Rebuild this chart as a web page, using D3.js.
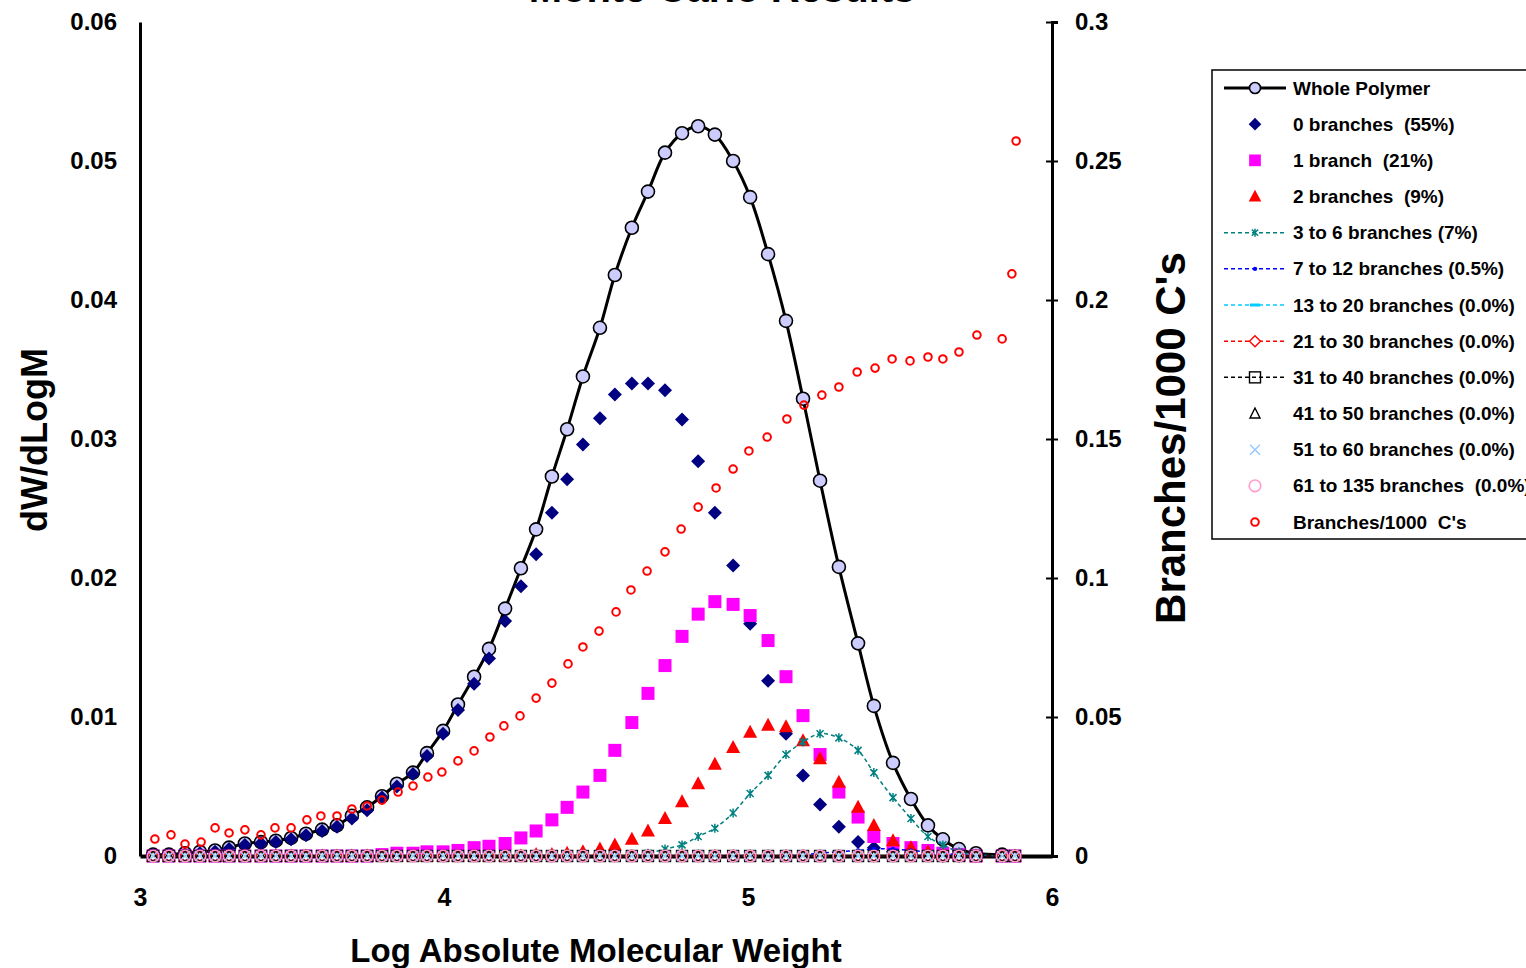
<!DOCTYPE html>
<html>
<head>
<meta charset="utf-8">
<script src="https://cdn.jsdelivr.net/npm/d3@7"></script>
<style>
  body { margin: 0; background: #fff; }
  svg { display: block; font-family: "Liberation Sans", Arial, sans-serif; font-weight: bold; }
</style>
</head>
<body>
<svg id="chart" width="1526" height="968"></svg>
<script>
// log molecular weight slices (shared by the dW/dLogM series)
const logM = [3.043, 3.095, 3.148, 3.197, 3.247, 3.293, 3.345, 3.398, 3.447, 3.497,
  3.546, 3.599, 3.648, 3.697, 3.747, 3.796, 3.845, 3.898, 3.944, 3.997,
  4.046, 4.099, 4.148, 4.201, 4.253, 4.303, 4.355, 4.405, 4.457, 4.513,
  4.562, 4.618, 4.671, 4.727, 4.783, 4.836, 4.891, 4.951, 5.007, 5.066,
  5.125, 5.181, 5.237, 5.299, 5.362, 5.414, 5.477, 5.536, 5.592, 5.641,
  5.694, 5.750, 5.836, 5.878];

const wholePolymer = [0.0001, 0.0001, 0.0002, 0.0003, 0.0004, 0.0006, 0.0009, 0.0010, 0.0011, 0.0013,
  0.0016, 0.0019, 0.0022, 0.0029, 0.0035, 0.0043, 0.0052, 0.0060, 0.0074, 0.0090,
  0.0109, 0.0129, 0.0149, 0.0178, 0.0207, 0.0235, 0.0273, 0.0307, 0.0345, 0.0380,
  0.0418, 0.0452, 0.0478, 0.0506, 0.0520, 0.0525, 0.0519, 0.0500, 0.0474, 0.0433,
  0.0385, 0.0329, 0.0270, 0.0208, 0.0153, 0.0108, 0.0067, 0.0041, 0.0022, 0.0012,
  0.0005, 0.0002, 0.0001, null];

const branches0 = [0.0001, 0.0001, 0.0001, 0.0002, 0.0003, 0.0005, 0.0008, 0.0009, 0.0010, 0.0012,
  0.0015, 0.0018, 0.0021, 0.0027, 0.0033, 0.0042, 0.0050, 0.0059, 0.0072, 0.0088,
  0.0105, 0.0124, 0.0142, 0.0169, 0.0194, 0.0217, 0.0247, 0.0271, 0.0296, 0.0315,
  0.0332, 0.0340, 0.0340, 0.0335, 0.0314, 0.0284, 0.0247, 0.0209, 0.0167, 0.0126,
  0.0088, 0.0058, 0.0037, 0.0021, 0.0010, 0.0006, 0.0003, 0.0001, 0.0001, 0,
  0, 0, 0, 0];

const branches1 = [0, 0, 0, 0, 0, 0, 0, 0, 0, 0,
  0, 0, 0, 0, 0, 0.0001, 0.0002, 0.0002, 0.0003, 0.0003,
  0.0004, 0.0006, 0.0007, 0.0009, 0.0013, 0.0018, 0.0026, 0.0035, 0.0046, 0.0058,
  0.0076, 0.0096, 0.0117, 0.0137, 0.0158, 0.0174, 0.0183, 0.0181, 0.0173, 0.0155,
  0.0129, 0.0101, 0.0073, 0.0046, 0.0028, 0.0014, 0.0009, 0.0006, 0.0004, 0.0002,
  0.0001, 0, 0, 0];

const branches2 = [0, 0, 0, 0, 0, 0, 0, 0, 0, 0,
  0, 0, 0, 0, 0, 0, 0, 0, 0, 0,
  0, 0, 0, 0, 0, 0.0001, 0.0001, 0.0002, 0.0003, 0.0005,
  0.0008, 0.0012, 0.0018, 0.0027, 0.0039, 0.0052, 0.0066, 0.0078, 0.0089, 0.0094,
  0.0093, 0.0083, 0.0070, 0.0053, 0.0035, 0.0022, 0.0011, 0.0006, 0.0003, 0.0001,
  0, 0, 0, 0];

const branches3to6 = [0, 0, 0, 0, 0, 0, 0, 0, 0, 0,
  0, 0, 0, 0, 0, 0, 0, 0, 0, 0,
  0, 0, 0, 0, 0, 0, 0, 0, 0, 0,
  0, 0, 0.0002, 0.0005, 0.0008, 0.0014, 0.0020, 0.0031, 0.0045, 0.0058,
  0.0073, 0.0082, 0.0088, 0.0085, 0.0076, 0.0060, 0.0042, 0.0027, 0.0014, 0.0008,
  0.0003, 0.0001, 0, 0];

const branches7to12 = [0, 0, 0, 0, 0, 0, 0, 0, 0, 0,
  0, 0, 0, 0, 0, 0, 0, 0, 0, 0,
  0, 0, 0, 0, 0, 0, 0, 0, 0, 0,
  0, 0, 0, 0, 0, 0, 0, 0, 0, 0,
  0, 0.0001, 0.0002, 0.0003, 0.0004, 0.0005, 0.0005, 0.0004, 0.0003, 0.0002,
  0.0001, 0, 0, 0];

// the higher branch classes are empty (0.0%) everywhere
const emptyClass = [0, 0, 0, 0, 0, 0, 0, 0, 0, 0,
  0, 0, 0, 0, 0, 0, 0, 0, 0, 0,
  0, 0, 0, 0, 0, 0, 0, 0, 0, 0,
  0, 0, 0, 0, 0, 0, 0, 0, 0, 0,
  0, 0, 0, 0, 0, 0, 0, 0, 0, 0,
  0, 0, 0, 0];

// branches per 1000 C's (right axis), own slices
const branchLogM = [3.049, 3.102, 3.148, 3.201, 3.247, 3.293, 3.345, 3.398, 3.444, 3.497,
  3.549, 3.595, 3.648, 3.697, 3.747, 3.796, 3.849, 3.898, 3.947, 3.993,
  4.046, 4.099, 4.151, 4.197, 4.250, 4.303, 4.355, 4.408, 4.457, 4.510,
  4.566, 4.615, 4.668, 4.727, 4.780, 4.836, 4.895, 4.951, 5.003, 5.063,
  5.128, 5.184, 5.243, 5.299, 5.359, 5.418, 5.474, 5.533, 5.592, 5.641,
  5.694, 5.753, 5.836, 5.868, 5.882];

const branchesPer1000C = [0.0061, 0.0076, 0.0043, 0.0050, 0.0101, 0.0083, 0.0094, 0.0076, 0.0101, 0.0101,
  0.0130, 0.0144, 0.0144, 0.0169, 0.0180, 0.0201, 0.0230, 0.0252, 0.0284, 0.0302,
  0.0342, 0.0378, 0.0428, 0.0468, 0.0504, 0.0568, 0.0622, 0.0691, 0.0752, 0.0809,
  0.0878, 0.0957, 0.1025, 0.1094, 0.1176, 0.1255, 0.1324, 0.1392, 0.1457, 0.1507,
  0.1572, 0.1622, 0.1658, 0.1687, 0.1741, 0.1755, 0.1788, 0.1781, 0.1795, 0.1788,
  0.1813, 0.1874, 0.1860, 0.2094, 0.2572];

const xTicks = [3, 4, 5, 6];
const leftTicks = [0, 0.01, 0.02, 0.03, 0.04, 0.05, 0.06];
const rightTicks = [0, 0.05, 0.1, 0.15, 0.2, 0.25, 0.3];

const series = [
  { name: 'Whole Polymer', xs: logM, ys: wholePolymer, axis: 'L', line: { color: '#000', width: 3 }, marker: 'whole' },
  { name: '0 branches  (55%)', xs: logM, ys: branches0, axis: 'L', marker: 'diamond' },
  { name: '1 branch  (21%)', xs: logM, ys: branches1, axis: 'L', marker: 'square' },
  { name: '2 branches  (9%)', xs: logM, ys: branches2, axis: 'L', marker: 'triangle' },
  { name: '3 to 6 branches (7%)', xs: logM, ys: branches3to6, axis: 'L', line: { color: '#008080', width: 1.5, dash: '4,3' }, marker: 'star' },
  { name: '7 to 12 branches (0.5%)', xs: logM, ys: branches7to12, axis: 'L', line: { color: '#0000FF', width: 1.5, dash: '4,3' }, marker: 'dot' },
  { name: '13 to 20 branches (0.0%)', xs: logM, ys: emptyClass, axis: 'L', line: { color: '#00CCFF', width: 1.5, dash: '4,3' }, marker: 'dash' },
  { name: '21 to 30 branches (0.0%)', xs: logM, ys: emptyClass, axis: 'L', line: { color: '#FF0000', width: 1.5, dash: '4,3' }, marker: 'diamondOpen' },
  { name: '31 to 40 branches (0.0%)', xs: logM, ys: emptyClass, axis: 'L', line: { color: '#000', width: 1.5, dash: '4,3' }, marker: 'squareOpen' },
  { name: '41 to 50 branches (0.0%)', xs: logM, ys: emptyClass, axis: 'L', marker: 'triangleOpen' },
  { name: '51 to 60 branches (0.0%)', xs: logM, ys: emptyClass, axis: 'L', marker: 'cross' },
  { name: '61 to 135 branches  (0.0%)', xs: logM, ys: emptyClass, axis: 'L', marker: 'circlePink' },
  { name: "Branches/1000  C's", xs: branchLogM, ys: branchesPer1000C, axis: 'R', marker: 'circleRed' }
];

const svg = d3.select('#chart');
const x = d3.scaleLinear().domain([3, 6]).range([140, 1052]);
const yL = d3.scaleLinear().domain([0, 0.06]).range([856, 22]);
const yR = d3.scaleLinear().domain([0, 0.3]).range([856, 22]);

// draws one marker of the given kind at (0,0) inside g
function drawMarker(g, kind, scale = 1) {
  const s = scale;
  switch (kind) {
    case 'whole':
      g.append('circle').attr('r', 6.5 * s).attr('fill', '#CCCCFF').attr('stroke', '#000').attr('stroke-width', 1.6);
      break;
    case 'diamond':
      g.append('path').attr('d', `M0,${-7 * s}L${7 * s},0L0,${7 * s}L${-7 * s},0Z`).attr('fill', '#000080');
      break;
    case 'square':
      g.append('rect').attr('x', -6.5 * s).attr('y', -6.5 * s).attr('width', 13 * s).attr('height', 13 * s).attr('fill', '#FF00FF');
      break;
    case 'triangle':
      g.append('path').attr('d', `M0,${-7.5 * s}L${7 * s},${5.5 * s}L${-7 * s},${5.5 * s}Z`).attr('fill', '#FF0000');
      break;
    case 'star':
      g.append('path').attr('d', `M${-3.5 * s},${-3.5 * s}L${3.5 * s},${3.5 * s}M${-3.5 * s},${3.5 * s}L${3.5 * s},${-3.5 * s}M0,${-4.5 * s}V${4.5 * s}`)
        .attr('stroke', '#008080').attr('stroke-width', 1.5).attr('fill', 'none');
      break;
    case 'dot':
      g.append('circle').attr('r', 2.2).attr('fill', '#0000FF');
      break;
    case 'dash':
      g.append('rect').attr('x', -5).attr('y', -1.5).attr('width', 10).attr('height', 3).attr('fill', '#00CCFF');
      break;
    case 'diamondOpen':
      g.append('path').attr('d', 'M0,-5.5L5.5,0L0,5.5L-5.5,0Z').attr('fill', '#fff').attr('stroke', '#FF0000').attr('stroke-width', 1.4);
      break;
    case 'squareOpen':
      g.append('rect').attr('x', -5.5).attr('y', -5.5).attr('width', 11).attr('height', 11).attr('fill', 'none').attr('stroke', '#000').attr('stroke-width', 1.4);
      break;
    case 'triangleOpen':
      g.append('path').attr('d', 'M0,-5.5L5,4.5L-5,4.5Z').attr('fill', 'none').attr('stroke', '#000').attr('stroke-width', 1.4);
      break;
    case 'cross':
      g.append('path').attr('d', 'M-5,-5L5,5M-5,5L5,-5').attr('stroke', '#99CCFF').attr('stroke-width', 1.6);
      break;
    case 'circlePink':
      g.append('circle').attr('r', 5.8).attr('fill', 'none').attr('stroke', '#FF99CC').attr('stroke-width', 1.6);
      break;
    case 'circleRed':
      g.append('circle').attr('r', 3.8).attr('fill', 'none').attr('stroke', '#FF0000').attr('stroke-width', 2);
      break;
  }
}

// title (mostly above the visible area)
svg.append('text')
  .attr('x', 722).attr('y', 1.5)
  .attr('text-anchor', 'middle')
  .attr('font-size', 40)
  .text('Monte Carlo Results');

// axes
const axisFont = g => g.selectAll('text').attr('font-family', '"Liberation Sans", Arial, sans-serif').attr('font-weight', 'bold').attr('fill', '#000');

svg.append('g')
  .attr('transform', 'translate(140,0)')
  .call(d3.axisLeft(yL).tickValues(leftTicks).tickSize(0).tickPadding(23).tickFormat(d => String(+d.toFixed(3))))
  .call(g => g.select('.domain').attr('stroke-width', 3))
  .call(axisFont)
  .call(g => g.selectAll('text').attr('font-size', 24));

svg.append('g')
  .attr('transform', 'translate(1052,0)')
  .call(d3.axisRight(yR).tickValues(rightTicks).tickSize(6).tickPadding(17).tickFormat(d => String(+d.toFixed(3))))
  .call(g => g.select('.domain').attr('stroke-width', 3))
  .call(g => g.selectAll('.tick line').attr('x1', -6).attr('stroke-width', 2))
  .call(axisFont)
  .call(g => g.selectAll('text').attr('font-size', 24));

svg.append('g')
  .attr('transform', 'translate(0,856)')
  .call(d3.axisBottom(x).tickValues(xTicks).tickSize(0).tickPadding(32).tickFormat(d3.format('d')))
  .call(g => g.select('.domain').attr('stroke-width', 4))
  .call(axisFont)
  .call(g => g.selectAll('text').attr('font-size', 25));

// axis titles
svg.append('text')
  .attr('transform', 'translate(47,440) rotate(-90)')
  .attr('text-anchor', 'middle')
  .attr('font-size', 36)
  .text('dW/dLogM');

svg.append('text')
  .attr('transform', 'translate(1185,438) rotate(-90)')
  .attr('text-anchor', 'middle')
  .attr('font-size', 42)
  .text("Branches/1000 C's");

svg.append('text')
  .attr('x', 596).attr('y', 962)
  .attr('text-anchor', 'middle')
  .attr('font-size', 33)
  .text('Log Absolute Molecular Weight');

// series
const plot = svg.append('g');
series.forEach(s => {
  const yScale = s.axis === 'R' ? yR : yL;
  const pts = s.xs.map((v, i) => [v, s.ys[i]]).filter(p => p[1] != null);
  if (s.line) {
    plot.append('path')
      .datum(pts)
      .attr('fill', 'none')
      .attr('stroke', s.line.color)
      .attr('stroke-width', s.line.width)
      .attr('stroke-dasharray', s.line.dash || null)
      .attr('d', d3.line().x(p => x(p[0])).y(p => yScale(p[1])).curve(d3.curveCatmullRom.alpha(0.5)));
  }
  pts.forEach(p => {
    const g = plot.append('g').attr('transform', `translate(${x(p[0])},${yScale(p[1])})`);
    drawMarker(g, s.marker);
  });
});

// legend
const legend = svg.append('g');
legend.append('rect')
  .attr('x', 1212).attr('y', 70)
  .attr('width', 340).attr('height', 469)
  .attr('fill', '#fff').attr('stroke', '#000').attr('stroke-width', 1.5);

series.forEach((s, i) => {
  const cy = 88 + i * 36.17;
  if (s.line) {
    legend.append('line')
      .attr('x1', 1224).attr('x2', 1286).attr('y1', cy).attr('y2', cy)
      .attr('stroke', s.line.color)
      .attr('stroke-width', s.line.width)
      .attr('stroke-dasharray', s.line.dash || null);
  }
  const g = legend.append('g').attr('transform', `translate(1255,${cy})`);
  drawMarker(g, s.marker, s.marker === 'whole' ? 0.85 : 0.9);
  legend.append('text')
    .attr('x', 1293).attr('y', cy)
    .attr('dominant-baseline', 'central')
    .attr('font-size', 19)
    .style('white-space', 'pre')
    .text(s.name);
});
</script>
</body>
</html>
